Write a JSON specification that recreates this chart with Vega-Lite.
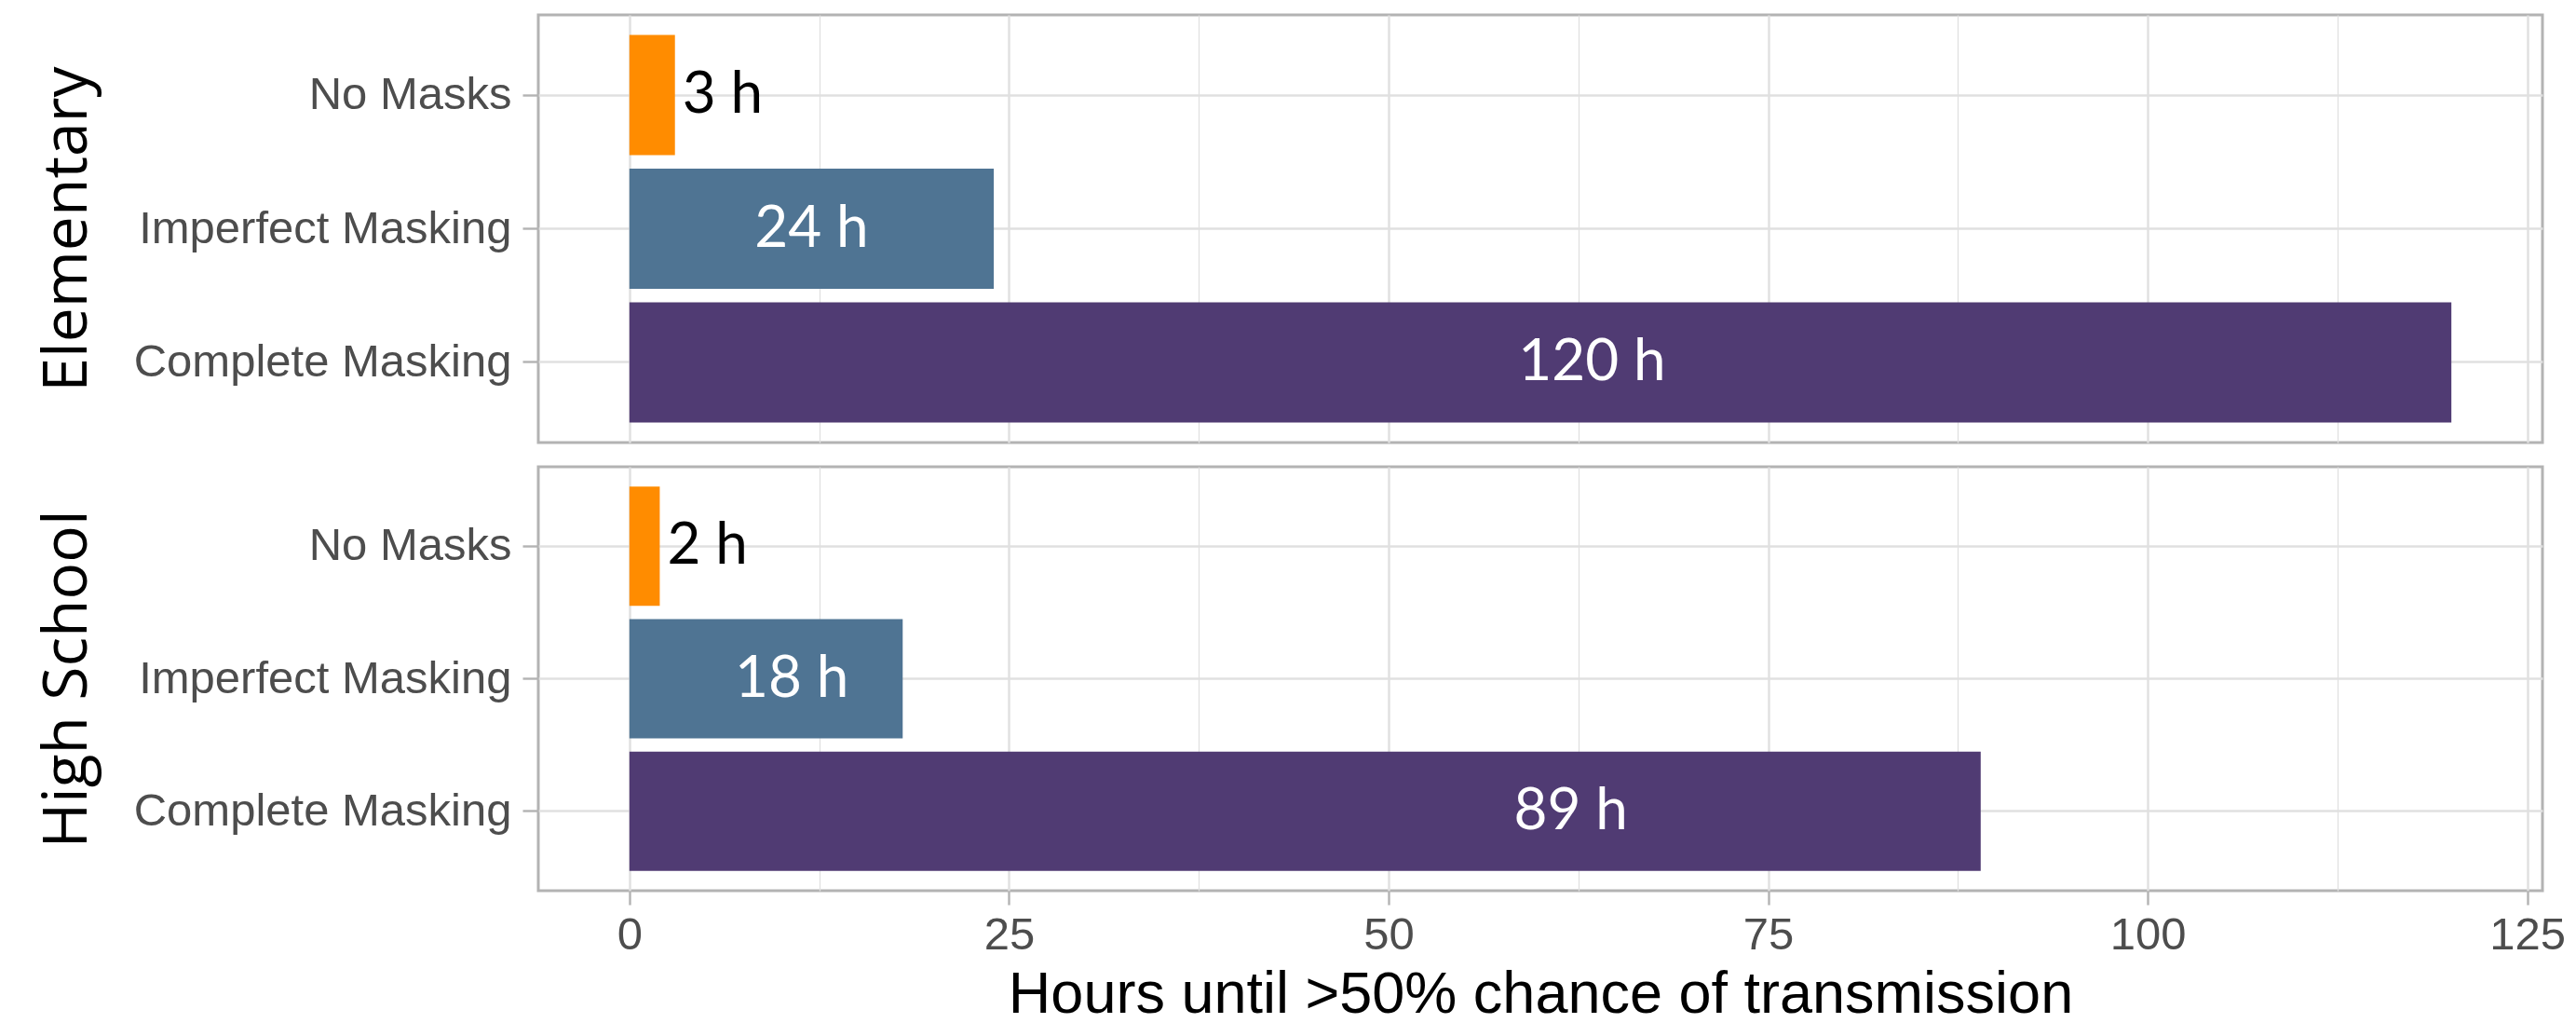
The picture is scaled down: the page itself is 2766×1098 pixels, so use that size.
{
  "$schema": "https://vega.github.io/schema/vega-lite/v6.json",
  "background": "white",
  "padding": {"left": 37, "top": 14, "right": 41, "bottom": 0},
  "datasets": {
    "hours": [
      {"school": "Elementary", "scenario": "No Masks", "hours": 3, "label": "3 h", "label_at": 3},
      {"school": "Elementary", "scenario": "Imperfect Masking", "hours": 24, "label": "24 h", "label_at": 12},
      {"school": "Elementary", "scenario": "Complete Masking", "hours": 120, "label": "120 h", "label_at": 63.4},
      {"school": "High School", "scenario": "No Masks", "hours": 2, "label": "2 h", "label_at": 2},
      {"school": "High School", "scenario": "Imperfect Masking", "hours": 18, "label": "18 h", "label_at": 10.7},
      {"school": "High School", "scenario": "Complete Masking", "hours": 89, "label": "89 h", "label_at": 62}
    ]
  },
  "spacing": 22,
  "vconcat": [
    {
      "width": 2152,
      "height": 459,
      "data": {"name": "hours"},
      "transform": [{"filter": "datum.school === 'Elementary'"}],
      "encoding": {
        "y": {
          "field": "scenario", "type": "nominal",
          "sort": ["No Masks", "Imperfect Masking", "Complete Masking"],
          "scale": {"paddingInner": 0.1, "paddingOuter": 0.15},
          "axis": {"title": "Elementary"}
        }
      },
      "layer": [
        {
          "mark": {"type": "bar"},
          "encoding": {
            "x": {
              "field": "hours", "type": "quantitative", "title": null,
              "scale": {"domain": [-6, 126], "nice": false, "zero": false},
              "axis": {
                "values": [0, 12.5, 25, 37.5, 50, 62.5, 75, 87.5, 100, 112.5, 125],
                "labels": false, "ticks": false, "title": null
              }
            },
            "x2": {"datum": 0},
            "color": {
              "field": "scenario", "type": "nominal", "legend": null,
              "scale": {"domain": ["No Masks", "Imperfect Masking", "Complete Masking"], "range": ["#FF8C00", "#4F7493", "#503B73"]}
            }
          }
        },
        {
          "transform": [{"filter": "datum.hours < 5"}],
          "mark": {"type": "text", "align": "left", "baseline": "middle", "dx": 8, "font": "Lato", "fontSize": 62, "color": "black"},
          "encoding": {
            "x": {"field": "label_at", "type": "quantitative", "title": null},
            "text": {"field": "label"}
          }
        },
        {
          "transform": [{"filter": "datum.hours >= 5"}],
          "mark": {"type": "text", "align": "center", "baseline": "middle", "font": "Lato", "fontSize": 62, "color": "white"},
          "encoding": {
            "x": {"field": "label_at", "type": "quantitative", "title": null},
            "text": {"field": "label"}
          }
        }
      ]
    },
    {
      "width": 2152,
      "height": 455,
      "data": {"name": "hours"},
      "transform": [{"filter": "datum.school === 'High School'"}],
      "encoding": {
        "y": {
          "field": "scenario", "type": "nominal",
          "sort": ["No Masks", "Imperfect Masking", "Complete Masking"],
          "scale": {"paddingInner": 0.1, "paddingOuter": 0.15},
          "axis": {"title": "High School"}
        }
      },
      "layer": [
        {
          "mark": {"type": "bar"},
          "encoding": {
            "x": {
              "field": "hours", "type": "quantitative", "title": "Hours until >50% chance of transmission",
              "scale": {"domain": [-6, 126], "nice": false, "zero": false},
              "axis": {
                "values": [0, 12.5, 25, 37.5, 50, 62.5, 75, 87.5, 100, 112.5, 125]
              }
            },
            "x2": {"datum": 0},
            "color": {
              "field": "scenario", "type": "nominal", "legend": null,
              "scale": {"domain": ["No Masks", "Imperfect Masking", "Complete Masking"], "range": ["#FF8C00", "#4F7493", "#503B73"]}
            }
          }
        },
        {
          "transform": [{"filter": "datum.hours < 5"}],
          "mark": {"type": "text", "align": "left", "baseline": "middle", "dx": 8, "font": "Lato", "fontSize": 62, "color": "black"},
          "encoding": {
            "x": {"field": "label_at", "type": "quantitative", "title": "Hours until >50% chance of transmission"},
            "text": {"field": "label"}
          }
        },
        {
          "transform": [{"filter": "datum.hours >= 5"}],
          "mark": {"type": "text", "align": "center", "baseline": "middle", "font": "Lato", "fontSize": 62, "color": "white"},
          "encoding": {
            "x": {"field": "label_at", "type": "quantitative", "title": "Hours until >50% chance of transmission"},
            "text": {"field": "label"}
          }
        }
      ]
    }
  ],
  "config": {
    "view": {"stroke": "#B3B3B3", "strokeWidth": 3},
    "axisX": {
      "grid": true,
      "gridColor": "#E0E0E0",
      "gridWidth": {"condition": {"test": "datum.value % 25 !== 0", "value": 1.3}, "value": 2.4},
      "tickOpacity": {"condition": {"test": "datum.value % 25 !== 0", "value": 0}, "value": 1},
      "labelExpr": "datum.value % 25 === 0 ? datum.label : ''",
      "labelOverlap": false,
      "labelFlush": false,
      "domain": false,
      "tickColor": "#B3B3B3",
      "tickSize": 15,
      "tickWidth": 2.4,
      "labelFont": "Liberation Sans",
      "labelFontSize": 49,
      "labelColor": "#4D4D4D",
      "labelPadding": 8,
      "titleFont": "Liberation Sans",
      "titleFontSize": 63,
      "titleFontWeight": "normal",
      "titleColor": "black",
      "titlePadding": 8
    },
    "axisY": {
      "grid": true,
      "gridColor": "#E0E0E0",
      "gridWidth": 2.4,
      "bandPosition": 0.5,
      "domain": false,
      "tickColor": "#B3B3B3",
      "tickSize": 17,
      "tickWidth": 2.4,
      "tickBand": "center",
      "labelLimit": 1000,
      "labelFont": "Liberation Sans",
      "labelFontSize": 49,
      "labelColor": "#4D4D4D",
      "labelPadding": 12,
      "titleFont": "Open Sans",
      "titleFontSize": 66,
      "titleFontWeight": "normal",
      "titleColor": "black",
      "titleAngle": 270,
      "titleBaseline": "bottom",
      "titleAlign": "center",
      "titleX": -472
    }
  }
}
